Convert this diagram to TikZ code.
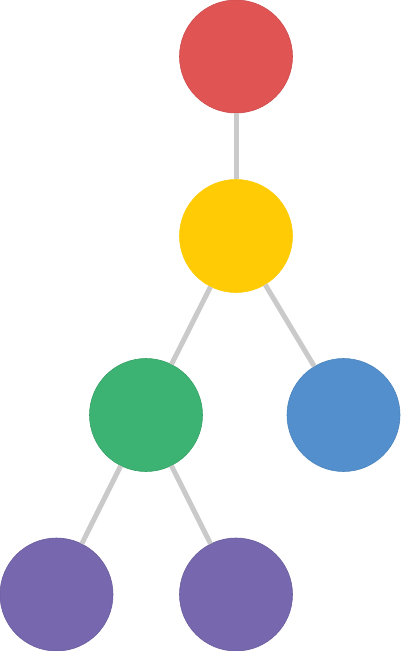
\documentclass[tikz,border=0pt]{standalone}
\usepackage{tikz}

\definecolor{bolaVermelha}{HTML}{E05454}
\definecolor{bolaAmarela}{HTML}{FFCB05}
\definecolor{bolaVerde}{HTML}{3CB373}
\definecolor{bolaAzul}{HTML}{528FCC}
\definecolor{bolaRoxa}{HTML}{7767AE}
\definecolor{galho}{HTML}{CACACA}

\tikzset{
	bola/.style={circle, minimum size=113pt, inner sep=0pt, line width=0.6pt},
	aresta/.style={color=galho, line width=5pt}
}

\begin{document}
\begin{tikzpicture}[x=1pt, y=-1pt]

	\def \largura{400};
	\def \altura{651};

	\useasboundingbox (0,0) rectangle (\largura, \altura);

	\node[bola, fill=bolaVermelha, draw=bolaVermelha!92!black] (raiz) at (236, 56.5) {};
	\node[bola, fill=bolaAmarela, draw=bolaAmarela] (meio) at (236, 236) {};
	\node[bola, fill=bolaVerde, draw=bolaVerde!90!black] (esq) at (146, 415) {};
	\node[bola, fill=bolaAzul, draw=bolaAzul!92!black] (dir) at (343.5, 415) {};
	\node[bola, fill=bolaRoxa, draw=bolaRoxa!90!black] (folhaE) at (56.5, 594.5) {};
	\node[bola, fill=bolaRoxa, draw=bolaRoxa!90!black] (folhaD) at (236, 594.5) {};

	% galhos
	\draw[aresta] (raiz) -- (meio);
	\draw[aresta] (meio) -- (esq);
	\draw[aresta] (meio) -- (dir);
	\draw[aresta] (esq) -- (folhaE);
	\draw[aresta] (esq) -- (folhaD);

\end{tikzpicture}
\end{document}
